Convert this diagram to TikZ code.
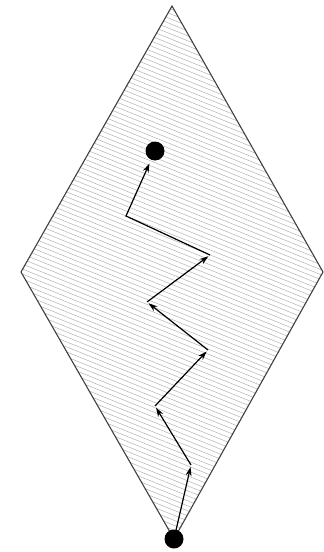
\documentclass[tikz,border=0pt]{standalone}
\usetikzlibrary{arrows.meta}
\begin{document}
\begin{tikzpicture}[x=1pt,y=1pt,
  hatch/.style={gray!60,line width=0.5pt},
  rim/.style={draw=black!75,line width=1.1pt,line join=miter},
  walk/.style={draw=black,line width=1.2pt,-{Stealth[length=9pt,width=6pt]},shorten >=2pt},
  dotnode/.style={circle,fill=black,inner sep=0pt,minimum size=19pt}]
\useasboundingbox (0,0) rectangle (324,-552);
% diamond vertices
\coordinate (T) at (172,-6);
\coordinate (L) at (21,-272);
\coordinate (R) at (323,-272);
\coordinate (B) at (174,-539);
% hatching
\begin{scope}
  \clip (T) -- (R) -- (B) -- (L) -- cycle;
  \foreach \c in {-580,-575,...,180} {
    \draw[hatch] (0,\c) -- ++(-22:400);
  }
\end{scope}
\draw[rim] (T) -- (R) -- (B) -- (L) -- cycle;
% path vertices
\node[dotnode] (d0) at (174,-539) {};
\node[dotnode] (d7) at (155,-151) {};
\coordinate (p1) at (191,-465);
\coordinate (p2) at (155,-406);
\coordinate (p3) at (208,-350);
\coordinate (p4) at (147,-302);
\coordinate (p5) at (210,-255);
\coordinate (p6) at (126,-216);
\draw[walk] (d0.center) -- (p1);
\draw[walk] (p1) -- (p2);
\draw[walk] (p2) -- (p3);
\draw[walk] (p3) -- (p4);
\draw[walk] (p4) -- (p5);
\draw[walk,shorten >=4pt] (p5) -- (p6) -- (d7);
\end{tikzpicture}
\end{document}
